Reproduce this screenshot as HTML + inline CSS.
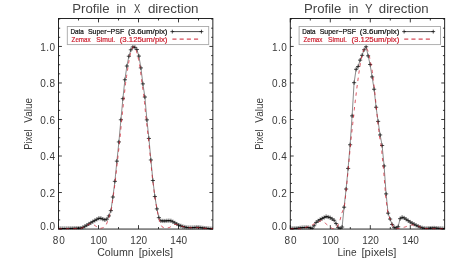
<!DOCTYPE html>
<html><head><meta charset="utf-8"><title>Profiles</title>
<style>html,body{margin:0;padding:0;background:#fff;}body{width:463px;height:267px;overflow:hidden;font-family:"Liberation Sans",sans-serif;}</style>
</head><body>
<svg width="463" height="267" viewBox="0 0 463 267" style="display:block;will-change:transform;transform:translateZ(0)">
<rect width="463" height="267" fill="#fff"/>
<defs><clipPath id="c0"><rect x="58.50" y="18.50" width="154.35" height="211.05"/></clipPath><clipPath id="c1"><rect x="290.30" y="18.50" width="154.35" height="211.05"/></clipPath></defs>
<g font-family="Liberation Sans, sans-serif">
<rect x="58.50" y="18.50" width="154.35" height="210.55" fill="none" stroke="#1a1a1a" stroke-width="0.95"/>
<path d="M58.50 229.05v-3.9M58.50 18.50v3.9M78.50 229.05v-2.0M78.50 18.50v2.0M98.50 229.05v-3.9M98.50 18.50v3.9M118.50 229.05v-2.0M118.50 18.50v2.0M138.50 229.05v-3.9M138.50 18.50v3.9M158.50 229.05v-2.0M158.50 18.50v2.0M178.50 229.05v-3.9M178.50 18.50v3.9M198.50 229.05v-2.0M198.50 18.50v2.0M58.50 229.05h3.4M212.85 229.05h-3.4M58.50 219.92h1.7M212.85 219.92h-1.7M58.50 210.79h1.7M212.85 210.79h-1.7M58.50 201.66h1.7M212.85 201.66h-1.7M58.50 192.53h3.4M212.85 192.53h-3.4M58.50 183.40h1.7M212.85 183.40h-1.7M58.50 174.27h1.7M212.85 174.27h-1.7M58.50 165.14h1.7M212.85 165.14h-1.7M58.50 156.01h3.4M212.85 156.01h-3.4M58.50 146.88h1.7M212.85 146.88h-1.7M58.50 137.75h1.7M212.85 137.75h-1.7M58.50 128.62h1.7M212.85 128.62h-1.7M58.50 119.49h3.4M212.85 119.49h-3.4M58.50 110.36h1.7M212.85 110.36h-1.7M58.50 101.23h1.7M212.85 101.23h-1.7M58.50 92.10h1.7M212.85 92.10h-1.7M58.50 82.97h3.4M212.85 82.97h-3.4M58.50 73.84h1.7M212.85 73.84h-1.7M58.50 64.71h1.7M212.85 64.71h-1.7M58.50 55.58h1.7M212.85 55.58h-1.7M58.50 46.45h3.4M212.85 46.45h-3.4M58.50 37.32h1.7M212.85 37.32h-1.7M58.50 28.19h1.7M212.85 28.19h-1.7M58.50 19.06h1.7M212.85 19.06h-1.7" stroke="#1a1a1a" stroke-width="0.85" fill="none"/>
<text x="58.70" y="243.90" font-size="10.0" text-anchor="middle" fill="#3a3a3a" textLength="12.00" lengthAdjust="spacing" >80</text>
<text x="98.70" y="243.90" font-size="10.0" text-anchor="middle" fill="#3a3a3a" textLength="16.70" lengthAdjust="spacing" >100</text>
<text x="138.70" y="243.90" font-size="10.0" text-anchor="middle" fill="#3a3a3a" textLength="16.70" lengthAdjust="spacing" >120</text>
<text x="178.70" y="243.90" font-size="10.0" text-anchor="middle" fill="#3a3a3a" textLength="16.70" lengthAdjust="spacing" >140</text>
<text x="55.00" y="229.60" font-size="10.0" text-anchor="end" fill="#3a3a3a" textLength="14.80" lengthAdjust="spacing" >0.0</text>
<text x="55.00" y="196.93" font-size="10.0" text-anchor="end" fill="#3a3a3a" textLength="14.80" lengthAdjust="spacing" >0.2</text>
<text x="55.00" y="160.41" font-size="10.0" text-anchor="end" fill="#3a3a3a" textLength="14.80" lengthAdjust="spacing" >0.4</text>
<text x="55.00" y="123.89" font-size="10.0" text-anchor="end" fill="#3a3a3a" textLength="14.80" lengthAdjust="spacing" >0.6</text>
<text x="55.00" y="87.37" font-size="10.0" text-anchor="end" fill="#3a3a3a" textLength="14.80" lengthAdjust="spacing" >0.8</text>
<text x="55.00" y="50.85" font-size="10.0" text-anchor="end" fill="#3a3a3a" textLength="14.80" lengthAdjust="spacing" >1.0</text>
<text x="72.30" y="13.20" font-size="12.2" fill="#454545" textLength="37.30" lengthAdjust="spacingAndGlyphs" >Profile</text>
<text x="116.50" y="13.20" font-size="12.2" fill="#454545" textLength="9.60" lengthAdjust="spacingAndGlyphs" >in</text>
<text x="133.90" y="13.20" font-size="12.2" fill="#454545" textLength="6.40" lengthAdjust="spacingAndGlyphs" >X</text>
<text x="147.90" y="13.20" font-size="12.2" fill="#454545" textLength="50.70" lengthAdjust="spacingAndGlyphs" >direction</text>
<text x="97.20" y="255.60" font-size="10.0" fill="#3a3a3a" textLength="36.50" lengthAdjust="spacingAndGlyphs" >Column</text>
<text x="138.80" y="255.60" font-size="10.0" fill="#3a3a3a" textLength="34.40" lengthAdjust="spacingAndGlyphs" >[pixels]</text>
<text transform="translate(31.50 149.70) rotate(-90)" font-size="10.0" fill="#3a3a3a" textLength="20.40" lengthAdjust="spacingAndGlyphs">Pixel</text>
<text transform="translate(31.50 122.70) rotate(-90)" font-size="10.0" fill="#3a3a3a" textLength="24.80" lengthAdjust="spacingAndGlyphs">Value</text>
<g clip-path="url(#c0)">
<polyline points="58.90,228.50 60.90,228.50 62.90,228.50 64.90,228.50 66.90,228.49 68.90,228.45 70.90,228.40 72.90,228.36 74.90,228.31 76.90,228.26 78.90,228.20 80.90,228.15 82.90,227.37 84.90,226.27 86.90,225.16 88.90,223.97 90.90,222.79 92.90,221.60 94.90,220.43 96.90,219.34 98.90,218.30 100.90,218.33 102.90,219.15 104.90,219.86 106.90,219.11 108.90,215.92 110.90,210.65 112.90,197.02 114.90,181.35 116.90,161.15 118.90,141.93 120.90,119.75 122.90,98.70 124.90,79.76 126.90,66.03 128.90,56.23 130.90,49.81 132.90,46.91 134.90,47.34 136.90,49.47 138.90,56.09 140.90,67.91 142.90,83.85 144.90,97.03 146.90,119.86 148.90,138.44 150.90,159.97 152.90,180.51 154.90,196.55 156.90,208.88 158.90,217.67 160.90,220.84 162.90,220.94 164.90,220.98 166.90,220.80 168.90,220.68 170.90,220.81 172.90,221.75 174.90,222.89 176.90,224.02 178.90,225.11 180.90,225.88 182.90,226.58 184.90,227.02 186.90,227.46 188.90,227.59 190.90,227.59 192.90,227.56 194.90,227.43 196.90,227.30 198.90,227.34 200.90,227.62 202.90,227.91 204.90,228.17 206.90,228.35 208.90,228.52 210.90,228.69 212.90,228.87" fill="none" stroke="#2a2a2a" stroke-width="0.55"/>
<path d="M56.80 228.50h4.2M58.90 226.40v4.2M58.80 228.50h4.2M60.90 226.40v4.2M60.80 228.50h4.2M62.90 226.40v4.2M62.80 228.50h4.2M64.90 226.40v4.2M64.80 228.49h4.2M66.90 226.39v4.2M66.80 228.45h4.2M68.90 226.35v4.2M68.80 228.40h4.2M70.90 226.30v4.2M70.80 228.36h4.2M72.90 226.26v4.2M72.80 228.31h4.2M74.90 226.21v4.2M74.80 228.26h4.2M76.90 226.16v4.2M76.80 228.20h4.2M78.90 226.10v4.2M78.80 228.15h4.2M80.90 226.05v4.2M80.80 227.37h4.2M82.90 225.27v4.2M82.80 226.27h4.2M84.90 224.17v4.2M84.80 225.16h4.2M86.90 223.06v4.2M86.80 223.97h4.2M88.90 221.87v4.2M88.80 222.79h4.2M90.90 220.69v4.2M90.80 221.60h4.2M92.90 219.50v4.2M92.80 220.43h4.2M94.90 218.33v4.2M94.80 219.34h4.2M96.90 217.24v4.2M96.80 218.30h4.2M98.90 216.20v4.2M98.80 218.33h4.2M100.90 216.23v4.2M100.80 219.15h4.2M102.90 217.05v4.2M102.80 219.86h4.2M104.90 217.76v4.2M104.80 219.11h4.2M106.90 217.01v4.2M106.80 215.92h4.2M108.90 213.82v4.2M108.80 210.65h4.2M110.90 208.55v4.2M110.80 197.02h4.2M112.90 194.92v4.2M112.80 181.35h4.2M114.90 179.25v4.2M114.80 161.15h4.2M116.90 159.05v4.2M116.80 141.93h4.2M118.90 139.83v4.2M118.80 119.75h4.2M120.90 117.65v4.2M120.80 98.70h4.2M122.90 96.60v4.2M122.80 79.76h4.2M124.90 77.66v4.2M124.80 66.03h4.2M126.90 63.93v4.2M126.80 56.23h4.2M128.90 54.13v4.2M128.80 49.81h4.2M130.90 47.71v4.2M130.80 46.91h4.2M132.90 44.81v4.2M132.80 47.34h4.2M134.90 45.24v4.2M134.80 49.47h4.2M136.90 47.37v4.2M136.80 56.09h4.2M138.90 53.99v4.2M138.80 67.91h4.2M140.90 65.81v4.2M140.80 83.85h4.2M142.90 81.75v4.2M142.80 97.03h4.2M144.90 94.93v4.2M144.80 119.86h4.2M146.90 117.76v4.2M146.80 138.44h4.2M148.90 136.34v4.2M148.80 159.97h4.2M150.90 157.87v4.2M150.80 180.51h4.2M152.90 178.41v4.2M152.80 196.55h4.2M154.90 194.45v4.2M154.80 208.88h4.2M156.90 206.78v4.2M156.80 217.67h4.2M158.90 215.57v4.2M158.80 220.84h4.2M160.90 218.74v4.2M160.80 220.94h4.2M162.90 218.84v4.2M162.80 220.98h4.2M164.90 218.88v4.2M164.80 220.80h4.2M166.90 218.70v4.2M166.80 220.68h4.2M168.90 218.58v4.2M168.80 220.81h4.2M170.90 218.71v4.2M170.80 221.75h4.2M172.90 219.65v4.2M172.80 222.89h4.2M174.90 220.79v4.2M174.80 224.02h4.2M176.90 221.92v4.2M176.80 225.11h4.2M178.90 223.01v4.2M178.80 225.88h4.2M180.90 223.78v4.2M180.80 226.58h4.2M182.90 224.48v4.2M182.80 227.02h4.2M184.90 224.92v4.2M184.80 227.46h4.2M186.90 225.36v4.2M186.80 227.59h4.2M188.90 225.49v4.2M188.80 227.59h4.2M190.90 225.49v4.2M190.80 227.56h4.2M192.90 225.46v4.2M192.80 227.43h4.2M194.90 225.33v4.2M194.80 227.30h4.2M196.90 225.20v4.2M196.80 227.34h4.2M198.90 225.24v4.2M198.80 227.62h4.2M200.90 225.52v4.2M200.80 227.91h4.2M202.90 225.81v4.2M202.80 228.17h4.2M204.90 226.07v4.2M204.80 228.35h4.2M206.90 226.25v4.2M206.80 228.52h4.2M208.90 226.42v4.2M208.80 228.69h4.2M210.90 226.59v4.2M210.80 228.87h4.2M212.90 226.77v4.2" stroke="#000" stroke-width="0.68" fill="none"/>
<polyline points="58.50,228.87 59.00,228.86 59.50,228.86 60.00,228.85 60.50,228.84 61.00,228.84 61.50,228.83 62.00,228.83 62.50,228.82 63.00,228.82 63.50,228.81 64.00,228.80 64.50,228.80 65.00,228.79 65.50,228.79 66.00,228.78 66.50,228.78 67.00,228.77 67.50,228.76 68.00,228.76 68.50,228.75 69.00,228.75 69.50,228.74 70.00,228.74 70.50,228.73 71.00,228.72 71.50,228.72 72.00,228.71 72.50,228.71 73.00,228.70 73.50,228.70 74.00,228.69 74.50,228.68 75.00,228.66 75.50,228.63 76.00,228.61 76.50,228.58 77.00,228.55 77.50,228.53 78.00,228.50 78.50,228.48 79.00,228.45 79.50,228.42 80.00,228.40 80.50,228.37 81.00,228.35 81.50,228.32 82.00,228.05 82.50,227.77 83.00,227.50 83.50,227.22 84.00,226.95 84.50,226.68 85.00,226.40 85.50,226.13 86.00,225.85 86.50,225.58 87.00,225.33 87.50,225.08 88.00,224.83 88.50,224.58 89.00,224.33 89.50,224.07 90.00,223.82 90.50,223.57 91.00,223.66 91.50,223.75 92.00,223.85 92.50,223.94 93.00,224.27 93.50,224.61 94.00,224.94 94.50,225.28 95.00,225.61 95.50,225.95 96.00,226.25 96.50,226.55 97.00,226.86 97.50,227.16 98.00,227.47 98.50,227.77 99.00,227.89 99.50,228.00 100.00,228.11 100.50,228.23 101.00,228.29 101.50,228.15 102.00,228.01 102.50,227.87 103.00,227.73 103.50,227.59 104.00,227.10 104.50,226.61 105.00,226.11 105.50,225.62 106.00,225.13 106.50,224.03 107.00,222.77 107.50,221.52 108.00,220.26 108.50,219.01 109.00,217.34 109.50,215.67 110.00,214.00 110.50,212.33 111.00,210.66 111.50,208.61 112.00,205.03 112.50,201.44 113.00,197.84 113.50,194.23 114.00,190.62 114.50,187.01 115.00,183.40 115.50,178.79 116.00,174.18 116.50,169.57 117.00,164.96 117.50,160.58 118.00,156.19 118.50,151.81 119.00,147.43 119.50,143.05 120.00,137.75 120.50,132.45 121.00,127.16 121.50,121.86 122.00,117.05 122.50,112.24 123.00,107.42 123.50,102.61 124.00,97.86 124.50,93.16 125.00,88.46 125.50,83.76 126.00,79.95 126.50,76.73 127.00,73.51 127.50,70.30 128.00,67.08 128.50,63.92 129.00,60.75 129.50,57.59 130.00,55.51 130.50,53.43 131.00,51.35 131.50,49.79 132.00,49.03 132.50,48.26 133.00,47.49 133.50,46.72 134.00,46.95 134.50,47.18 135.00,47.58 135.50,48.64 136.00,49.71 136.50,51.38 137.00,53.21 137.50,55.03 138.00,56.86 138.50,59.41 139.00,61.97 139.50,64.53 140.00,67.08 140.50,71.19 141.00,75.30 141.50,79.41 142.00,83.25 142.50,86.70 143.00,90.14 143.50,93.59 144.00,97.03 144.50,102.36 145.00,107.68 145.50,113.01 146.00,117.88 146.50,122.06 147.00,126.25 147.50,130.43 148.00,134.62 148.50,139.23 149.00,144.12 149.50,149.02 150.00,153.92 150.50,158.85 151.00,163.92 151.50,168.98 152.00,174.05 152.50,178.87 153.00,182.72 153.50,186.56 154.00,190.40 154.50,194.24 155.00,197.74 155.50,200.72 156.00,203.70 156.50,206.68 157.00,209.39 157.50,211.93 158.00,214.46 158.50,217.00 159.00,218.77 159.50,220.54 160.00,222.31 160.50,223.55 161.00,224.67 161.50,225.78 162.00,226.73 162.50,226.97 163.00,227.22 163.50,227.46 164.00,227.71 164.50,227.95 165.00,228.00 165.50,228.05 166.00,228.09 166.50,228.14 167.00,228.02 167.50,227.89 168.00,227.77 168.50,227.65 169.00,227.53 169.50,227.41 170.00,227.10 170.50,226.80 171.00,226.49 171.50,226.19 172.00,225.88 172.50,225.58 173.00,225.30 173.50,225.02 174.00,224.74 174.50,224.46 175.00,224.18 175.50,224.22 176.00,224.35 176.50,224.47 177.00,224.60 177.50,224.73 178.00,224.86 178.50,224.98 179.00,225.15 179.50,225.34 180.00,225.53 180.50,225.72 181.00,225.92 181.50,226.11 182.00,226.30 182.50,226.49 183.00,226.60 183.50,226.71 184.00,226.82 184.50,226.93 185.00,227.04 185.50,227.15 186.00,227.26 186.50,227.37 187.00,227.48 187.50,227.59 188.00,227.61 188.50,227.63 189.00,227.64 189.50,227.66 190.00,227.68 190.50,227.70 191.00,227.72 191.50,227.74 192.00,227.75 192.50,227.77 193.00,227.76 193.50,227.74 194.00,227.72 194.50,227.71 195.00,227.69 195.50,227.67 196.00,227.66 196.50,227.64 197.00,227.63 197.50,227.61 198.00,227.59 198.50,227.63 199.00,227.69 199.50,227.75 200.00,227.81 200.50,227.86 201.00,227.92 201.50,227.98 202.00,228.03 202.50,228.09 203.00,228.15 203.50,228.21 204.00,228.26 204.50,228.32 205.00,228.35 205.50,228.38 206.00,228.42 206.50,228.45 207.00,228.48 207.50,228.52 208.00,228.55 208.50,228.58 209.00,228.61 209.50,228.65 210.00,228.68 210.50,228.71 211.00,228.74 211.50,228.78 212.00,228.81 212.50,228.84 213.00,228.87" fill="none" stroke="#cc1f2f" stroke-width="0.75" stroke-dasharray="3.4 4.0"/>
</g>
<rect x="67.30" y="26.5" width="141.40" height="18.1" fill="#fff" stroke="#a8a8a8" stroke-width="0.9"/>
<text x="70.40" y="34.40" font-size="6.9" fill="#111" textLength="13.40" lengthAdjust="spacingAndGlyphs" stroke="#111" stroke-width="0.2">Data</text>
<text x="87.90" y="34.40" font-size="6.9" fill="#111" textLength="36.30" lengthAdjust="spacingAndGlyphs" stroke="#111" stroke-width="0.2">Super−PSF</text>
<text x="128.00" y="34.40" font-size="6.9" fill="#111" textLength="39.50" lengthAdjust="spacingAndGlyphs" stroke="#111" stroke-width="0.2">(3.6um/pix)</text>
<text x="71.60" y="41.60" font-size="6.9" fill="#cc1f2f" textLength="19.00" lengthAdjust="spacingAndGlyphs" stroke="#cc1f2f" stroke-width="0.2">Zemax</text>
<text x="96.20" y="41.60" font-size="6.9" fill="#cc1f2f" textLength="18.90" lengthAdjust="spacingAndGlyphs" stroke="#cc1f2f" stroke-width="0.2">Simul.</text>
<text x="119.70" y="41.60" font-size="6.9" fill="#cc1f2f" textLength="47.80" lengthAdjust="spacingAndGlyphs" stroke="#cc1f2f" stroke-width="0.2">(3.125um/pix)</text>
<path d="M172.30 31.6H201.45M170.40 31.6h3.8M172.30 29.700000000000003v3.8M199.55 31.6h3.8M201.45 29.700000000000003v3.8" stroke="#111" stroke-width="0.75" fill="none"/>
<path d="M172.40 39.1H198.40" stroke="#cc1f2f" stroke-width="1.0" stroke-dasharray="4.1 3.1" fill="none"/>
</g>
<g font-family="Liberation Sans, sans-serif">
<rect x="290.30" y="18.50" width="154.35" height="210.55" fill="none" stroke="#1a1a1a" stroke-width="0.95"/>
<path d="M290.30 229.05v-3.9M290.30 18.50v3.9M310.30 229.05v-2.0M310.30 18.50v2.0M330.30 229.05v-3.9M330.30 18.50v3.9M350.30 229.05v-2.0M350.30 18.50v2.0M370.30 229.05v-3.9M370.30 18.50v3.9M390.30 229.05v-2.0M390.30 18.50v2.0M410.30 229.05v-3.9M410.30 18.50v3.9M430.30 229.05v-2.0M430.30 18.50v2.0M290.30 229.05h3.4M444.65 229.05h-3.4M290.30 219.92h1.7M444.65 219.92h-1.7M290.30 210.79h1.7M444.65 210.79h-1.7M290.30 201.66h1.7M444.65 201.66h-1.7M290.30 192.53h3.4M444.65 192.53h-3.4M290.30 183.40h1.7M444.65 183.40h-1.7M290.30 174.27h1.7M444.65 174.27h-1.7M290.30 165.14h1.7M444.65 165.14h-1.7M290.30 156.01h3.4M444.65 156.01h-3.4M290.30 146.88h1.7M444.65 146.88h-1.7M290.30 137.75h1.7M444.65 137.75h-1.7M290.30 128.62h1.7M444.65 128.62h-1.7M290.30 119.49h3.4M444.65 119.49h-3.4M290.30 110.36h1.7M444.65 110.36h-1.7M290.30 101.23h1.7M444.65 101.23h-1.7M290.30 92.10h1.7M444.65 92.10h-1.7M290.30 82.97h3.4M444.65 82.97h-3.4M290.30 73.84h1.7M444.65 73.84h-1.7M290.30 64.71h1.7M444.65 64.71h-1.7M290.30 55.58h1.7M444.65 55.58h-1.7M290.30 46.45h3.4M444.65 46.45h-3.4M290.30 37.32h1.7M444.65 37.32h-1.7M290.30 28.19h1.7M444.65 28.19h-1.7M290.30 19.06h1.7M444.65 19.06h-1.7" stroke="#1a1a1a" stroke-width="0.85" fill="none"/>
<text x="290.50" y="243.90" font-size="10.0" text-anchor="middle" fill="#3a3a3a" textLength="12.00" lengthAdjust="spacing" >80</text>
<text x="330.50" y="243.90" font-size="10.0" text-anchor="middle" fill="#3a3a3a" textLength="16.70" lengthAdjust="spacing" >100</text>
<text x="370.50" y="243.90" font-size="10.0" text-anchor="middle" fill="#3a3a3a" textLength="16.70" lengthAdjust="spacing" >120</text>
<text x="410.50" y="243.90" font-size="10.0" text-anchor="middle" fill="#3a3a3a" textLength="16.70" lengthAdjust="spacing" >140</text>
<text x="286.80" y="229.60" font-size="10.0" text-anchor="end" fill="#3a3a3a" textLength="14.80" lengthAdjust="spacing" >0.0</text>
<text x="286.80" y="196.93" font-size="10.0" text-anchor="end" fill="#3a3a3a" textLength="14.80" lengthAdjust="spacing" >0.2</text>
<text x="286.80" y="160.41" font-size="10.0" text-anchor="end" fill="#3a3a3a" textLength="14.80" lengthAdjust="spacing" >0.4</text>
<text x="286.80" y="123.89" font-size="10.0" text-anchor="end" fill="#3a3a3a" textLength="14.80" lengthAdjust="spacing" >0.6</text>
<text x="286.80" y="87.37" font-size="10.0" text-anchor="end" fill="#3a3a3a" textLength="14.80" lengthAdjust="spacing" >0.8</text>
<text x="286.80" y="50.85" font-size="10.0" text-anchor="end" fill="#3a3a3a" textLength="14.80" lengthAdjust="spacing" >1.0</text>
<text x="304.00" y="13.20" font-size="12.2" fill="#454545" textLength="37.30" lengthAdjust="spacingAndGlyphs" >Profile</text>
<text x="348.80" y="13.20" font-size="12.2" fill="#454545" textLength="9.60" lengthAdjust="spacingAndGlyphs" >in</text>
<text x="364.90" y="13.20" font-size="12.2" fill="#454545" textLength="7.60" lengthAdjust="spacingAndGlyphs" >Y</text>
<text x="378.80" y="13.20" font-size="12.2" fill="#454545" textLength="49.90" lengthAdjust="spacingAndGlyphs" >direction</text>
<text x="337.50" y="255.60" font-size="10.0" fill="#3a3a3a" textLength="19.10" lengthAdjust="spacingAndGlyphs" >Line</text>
<text x="361.50" y="255.60" font-size="10.0" fill="#3a3a3a" textLength="35.00" lengthAdjust="spacingAndGlyphs" >[pixels]</text>
<text transform="translate(263.30 149.70) rotate(-90)" font-size="10.0" fill="#3a3a3a" textLength="20.40" lengthAdjust="spacingAndGlyphs">Pixel</text>
<text transform="translate(263.30 122.70) rotate(-90)" font-size="10.0" fill="#3a3a3a" textLength="24.80" lengthAdjust="spacingAndGlyphs">Value</text>
<g clip-path="url(#c1)">
<polyline points="290.10,228.50 292.10,228.45 294.10,228.40 296.10,228.35 298.10,228.17 300.10,227.88 302.10,227.59 304.10,227.50 306.10,227.42 308.10,227.50 310.10,227.82 312.10,228.41 314.10,225.76 316.10,222.41 318.10,220.91 320.10,219.57 322.10,218.53 324.10,217.54 326.10,216.55 328.10,217.03 330.10,217.66 332.10,218.93 334.10,220.27 336.10,223.57 338.10,227.35 340.10,228.64 342.10,227.05 344.10,207.19 346.10,189.03 348.10,168.42 350.10,144.78 352.10,115.86 354.10,82.68 356.10,69.29 358.10,66.54 360.10,60.11 362.10,55.31 364.10,49.76 366.10,46.72 368.10,55.85 370.10,64.51 372.10,76.92 374.10,89.24 376.10,107.26 378.10,121.39 380.10,134.94 382.10,145.49 384.10,165.95 386.10,193.90 388.10,213.16 390.10,219.04 392.10,224.43 394.10,227.34 396.10,227.95 398.10,226.74 400.10,218.67 402.10,217.33 404.10,217.96 406.10,219.24 408.10,220.62 410.10,222.02 412.10,223.15 414.10,224.22 416.10,225.29 418.10,226.22 420.10,227.13 422.10,227.81 424.10,228.24 426.10,228.44 428.10,228.30 430.10,228.15 432.10,228.05 434.10,227.96 436.10,228.12 438.10,228.30 440.10,228.42 442.10,228.54 444.10,228.65" fill="none" stroke="#2a2a2a" stroke-width="0.55"/>
<path d="M288.00 228.50h4.2M290.10 226.40v4.2M290.00 228.45h4.2M292.10 226.35v4.2M292.00 228.40h4.2M294.10 226.30v4.2M294.00 228.35h4.2M296.10 226.25v4.2M296.00 228.17h4.2M298.10 226.07v4.2M298.00 227.88h4.2M300.10 225.78v4.2M300.00 227.59h4.2M302.10 225.49v4.2M302.00 227.50h4.2M304.10 225.40v4.2M304.00 227.42h4.2M306.10 225.32v4.2M306.00 227.50h4.2M308.10 225.40v4.2M308.00 227.82h4.2M310.10 225.72v4.2M310.00 228.41h4.2M312.10 226.31v4.2M312.00 225.76h4.2M314.10 223.66v4.2M314.00 222.41h4.2M316.10 220.31v4.2M316.00 220.91h4.2M318.10 218.81v4.2M318.00 219.57h4.2M320.10 217.47v4.2M320.00 218.53h4.2M322.10 216.43v4.2M322.00 217.54h4.2M324.10 215.44v4.2M324.00 216.55h4.2M326.10 214.45v4.2M326.00 217.03h4.2M328.10 214.93v4.2M328.00 217.66h4.2M330.10 215.56v4.2M330.00 218.93h4.2M332.10 216.83v4.2M332.00 220.27h4.2M334.10 218.17v4.2M334.00 223.57h4.2M336.10 221.47v4.2M336.00 227.35h4.2M338.10 225.25v4.2M338.00 228.64h4.2M340.10 226.54v4.2M340.00 227.05h4.2M342.10 224.95v4.2M342.00 207.19h4.2M344.10 205.09v4.2M344.00 189.03h4.2M346.10 186.93v4.2M346.00 168.42h4.2M348.10 166.32v4.2M348.00 144.78h4.2M350.10 142.68v4.2M350.00 115.86h4.2M352.10 113.76v4.2M352.00 82.68h4.2M354.10 80.58v4.2M354.00 69.29h4.2M356.10 67.19v4.2M356.00 66.54h4.2M358.10 64.44v4.2M358.00 60.11h4.2M360.10 58.01v4.2M360.00 55.31h4.2M362.10 53.21v4.2M362.00 49.76h4.2M364.10 47.66v4.2M364.00 46.72h4.2M366.10 44.62v4.2M366.00 55.85h4.2M368.10 53.75v4.2M368.00 64.51h4.2M370.10 62.41v4.2M370.00 76.92h4.2M372.10 74.82v4.2M372.00 89.24h4.2M374.10 87.14v4.2M374.00 107.26h4.2M376.10 105.16v4.2M376.00 121.39h4.2M378.10 119.29v4.2M378.00 134.94h4.2M380.10 132.84v4.2M380.00 145.49h4.2M382.10 143.39v4.2M382.00 165.95h4.2M384.10 163.85v4.2M384.00 193.90h4.2M386.10 191.80v4.2M386.00 213.16h4.2M388.10 211.06v4.2M388.00 219.04h4.2M390.10 216.94v4.2M390.00 224.43h4.2M392.10 222.33v4.2M392.00 227.34h4.2M394.10 225.24v4.2M394.00 227.95h4.2M396.10 225.85v4.2M396.00 226.74h4.2M398.10 224.64v4.2M398.00 218.67h4.2M400.10 216.57v4.2M400.00 217.33h4.2M402.10 215.23v4.2M402.00 217.96h4.2M404.10 215.86v4.2M404.00 219.24h4.2M406.10 217.14v4.2M406.00 220.62h4.2M408.10 218.52v4.2M408.00 222.02h4.2M410.10 219.92v4.2M410.00 223.15h4.2M412.10 221.05v4.2M412.00 224.22h4.2M414.10 222.12v4.2M414.00 225.29h4.2M416.10 223.19v4.2M416.00 226.22h4.2M418.10 224.12v4.2M418.00 227.13h4.2M420.10 225.03v4.2M420.00 227.81h4.2M422.10 225.71v4.2M422.00 228.24h4.2M424.10 226.14v4.2M424.00 228.44h4.2M426.10 226.34v4.2M426.00 228.30h4.2M428.10 226.20v4.2M428.00 228.15h4.2M430.10 226.05v4.2M430.00 228.05h4.2M432.10 225.95v4.2M432.00 227.96h4.2M434.10 225.86v4.2M434.00 228.12h4.2M436.10 226.02v4.2M436.00 228.30h4.2M438.10 226.20v4.2M438.00 228.42h4.2M440.10 226.32v4.2M440.00 228.54h4.2M442.10 226.44v4.2M442.00 228.65h4.2M444.10 226.55v4.2" stroke="#000" stroke-width="0.68" fill="none"/>
<polyline points="290.30,228.87 290.80,228.86 291.30,228.85 291.80,228.84 292.30,228.83 292.80,228.82 293.30,228.82 293.80,228.81 294.30,228.80 294.80,228.79 295.30,228.78 295.80,228.77 296.30,228.76 296.80,228.76 297.30,228.75 297.80,228.74 298.30,228.73 298.80,228.72 299.30,228.71 299.80,228.70 300.30,228.70 300.80,228.69 301.30,228.59 301.80,228.46 302.30,228.34 302.80,228.21 303.30,228.09 303.80,227.96 304.30,227.84 304.80,227.71 305.30,227.59 305.80,227.39 306.30,227.20 306.80,227.00 307.30,226.81 307.80,226.61 308.30,226.42 308.80,226.22 309.30,226.02 309.80,225.83 310.30,225.63 310.80,225.44 311.30,225.24 311.80,225.05 312.30,224.85 312.80,224.62 313.30,224.39 313.80,224.17 314.30,223.94 314.80,223.71 315.30,223.48 315.80,223.25 316.30,223.02 316.80,222.80 317.30,222.57 317.80,222.34 318.30,222.11 318.80,221.87 319.30,221.60 319.80,221.33 320.30,221.05 320.80,220.78 321.30,220.50 321.80,220.37 322.30,220.77 322.80,221.18 323.30,221.58 323.80,221.99 324.30,222.40 324.80,222.80 325.30,223.21 325.80,223.63 326.30,224.06 326.80,224.49 327.30,224.91 327.80,225.34 328.30,225.76 328.80,226.11 329.30,226.45 329.80,226.79 330.30,227.13 330.80,227.48 331.30,227.82 331.80,228.16 332.30,228.50 332.80,228.50 333.30,228.50 333.80,228.50 334.30,228.50 334.80,228.50 335.30,228.50 335.80,228.15 336.30,227.79 336.80,227.44 337.30,226.75 337.80,225.58 338.30,224.41 338.80,223.23 339.30,222.06 339.80,220.89 340.30,219.07 340.80,217.09 341.30,215.11 341.80,213.26 342.30,211.92 342.80,210.59 343.30,209.25 343.80,207.91 344.30,206.58 344.80,203.22 345.30,198.52 345.80,193.82 346.30,189.12 346.80,184.10 347.30,178.87 347.80,173.64 348.30,168.42 348.80,163.05 349.30,157.60 349.80,152.14 350.30,146.68 350.80,141.40 351.30,136.84 351.80,132.27 352.30,127.71 352.80,123.14 353.30,118.58 353.80,114.01 354.30,109.45 354.80,104.97 355.30,100.86 355.80,96.76 356.30,92.65 356.80,88.60 357.30,84.80 357.80,80.99 358.30,77.19 358.80,73.69 359.30,70.39 359.80,67.09 360.30,63.80 360.80,61.23 361.30,58.66 361.80,56.09 362.30,54.21 362.80,52.50 363.30,50.79 363.80,49.71 364.30,49.06 364.80,48.41 365.30,47.76 365.80,47.11 366.30,47.18 366.80,48.32 367.30,49.46 367.80,50.60 368.30,51.75 368.80,53.18 369.30,55.81 369.80,58.43 370.30,61.06 370.80,63.28 371.30,65.49 371.80,68.02 372.30,71.79 372.80,75.55 373.30,79.32 373.80,83.60 374.30,87.88 374.80,92.16 375.30,97.08 375.80,102.17 376.30,107.26 376.80,112.33 377.30,117.41 377.80,122.49 378.30,126.70 378.80,130.70 379.30,134.69 379.80,137.99 380.30,140.83 380.80,143.67 381.30,146.51 381.80,151.69 382.30,156.86 382.80,162.04 383.30,167.21 383.80,172.63 384.30,179.02 384.80,185.41 385.30,191.80 385.80,197.65 386.30,201.34 386.80,205.04 387.30,208.73 387.80,212.43 388.30,214.24 388.80,215.59 389.30,216.93 389.80,218.28 390.30,219.63 390.80,220.96 391.30,222.30 391.80,223.63 392.30,224.96 392.80,225.99 393.30,226.55 393.80,227.11 394.30,227.67 394.80,228.24 395.30,228.68 395.80,228.63 396.30,228.59 396.80,228.54 397.30,228.50 397.80,228.45 398.30,228.41 398.80,228.36 399.30,228.32 399.80,228.21 400.30,228.10 400.80,227.99 401.30,227.88 401.80,227.77 402.30,227.66 402.80,227.55 403.30,227.44 403.80,227.33 404.30,227.22 404.80,227.05 405.30,226.87 405.80,226.69 406.30,226.52 406.80,226.34 407.30,226.16 407.80,225.99 408.30,225.81 408.80,225.63 409.30,225.46 409.80,225.28 410.30,225.10 410.80,225.03 411.30,225.03 411.80,225.03 412.30,225.03 412.80,225.03 413.30,225.03 413.80,225.03 414.30,225.03 414.80,225.15 415.30,225.26 415.80,225.38 416.30,225.49 416.80,225.60 417.30,225.72 417.80,225.92 418.30,226.17 418.80,226.42 419.30,226.68 419.80,226.93 420.30,227.18 420.80,227.44 421.30,227.63 421.80,227.74 422.30,227.84 422.80,227.95 423.30,228.05 423.80,228.16 424.30,228.26 424.80,228.37 425.30,228.47 425.80,228.58 426.30,228.68 426.80,228.69 427.30,228.69 427.80,228.70 428.30,228.70 428.80,228.71 429.30,228.71 429.80,228.72 430.30,228.72 430.80,228.73 431.30,228.73 431.80,228.74 432.30,228.74 432.80,228.75 433.30,228.75 433.80,228.76 434.30,228.76 434.80,228.77 435.30,228.77 435.80,228.78 436.30,228.78 436.80,228.79 437.30,228.79 437.80,228.80 438.30,228.80 438.80,228.81 439.30,228.81 439.80,228.82 440.30,228.82 440.80,228.83 441.30,228.83 441.80,228.84 442.30,228.84 442.80,228.85 443.30,228.85 443.80,228.86 444.30,228.86 444.80,228.87" fill="none" stroke="#cc1f2f" stroke-width="0.75" stroke-dasharray="3.4 4.0"/>
</g>
<rect x="299.10" y="26.5" width="141.40" height="18.1" fill="#fff" stroke="#a8a8a8" stroke-width="0.9"/>
<text x="302.20" y="34.40" font-size="6.9" fill="#111" textLength="13.40" lengthAdjust="spacingAndGlyphs" stroke="#111" stroke-width="0.2">Data</text>
<text x="319.70" y="34.40" font-size="6.9" fill="#111" textLength="36.30" lengthAdjust="spacingAndGlyphs" stroke="#111" stroke-width="0.2">Super−PSF</text>
<text x="359.80" y="34.40" font-size="6.9" fill="#111" textLength="39.50" lengthAdjust="spacingAndGlyphs" stroke="#111" stroke-width="0.2">(3.6um/pix)</text>
<text x="303.40" y="41.60" font-size="6.9" fill="#cc1f2f" textLength="19.00" lengthAdjust="spacingAndGlyphs" stroke="#cc1f2f" stroke-width="0.2">Zemax</text>
<text x="328.00" y="41.60" font-size="6.9" fill="#cc1f2f" textLength="18.90" lengthAdjust="spacingAndGlyphs" stroke="#cc1f2f" stroke-width="0.2">Simul.</text>
<text x="351.50" y="41.60" font-size="6.9" fill="#cc1f2f" textLength="47.80" lengthAdjust="spacingAndGlyphs" stroke="#cc1f2f" stroke-width="0.2">(3.125um/pix)</text>
<path d="M404.10 31.6H433.25M402.20 31.6h3.8M404.10 29.700000000000003v3.8M431.35 31.6h3.8M433.25 29.700000000000003v3.8" stroke="#111" stroke-width="0.75" fill="none"/>
<path d="M404.20 39.1H430.20" stroke="#cc1f2f" stroke-width="1.0" stroke-dasharray="4.1 3.1" fill="none"/>
</g>
</svg>
</body></html>
